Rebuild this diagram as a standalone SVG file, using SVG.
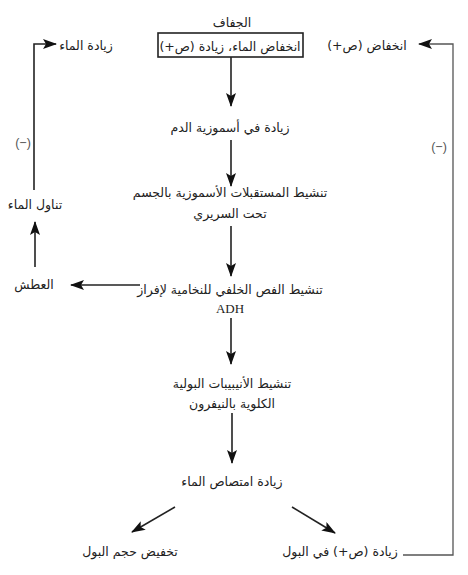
<svg xmlns="http://www.w3.org/2000/svg" width="468" height="575" viewBox="0 0 468 575">
<style>
text{font-family:"DejaVu Sans","Noto Sans",sans-serif;font-size:12.5px;fill:#222;text-anchor:middle}
.lat{font-family:"Liberation Serif",serif;font-size:13px}
.ln{stroke:#222;stroke-width:1.6;fill:none}
.fb{stroke:#555;stroke-width:1.3;fill:none}
.neg{font-weight:normal;fill:#555;font-family:"Liberation Sans",sans-serif}
</style>
<defs>
<marker id="ah" viewBox="0 0 14 10" refX="13" refY="5" markerWidth="14" markerHeight="10" markerUnits="userSpaceOnUse" orient="auto">
<path d="M0,0 L14,5 L0,10 L3,5 Z" fill="#111"/>
</marker>
</defs>
<rect width="468" height="575" fill="#fff"/>
<g id="n0"><text x="232" y="27">الجفاف</text></g>
<g id="n1"><rect x="158" y="33" width="145" height="24" fill="none" stroke="#222" stroke-width="1.6"/><text x="230" y="51">انخفاض الماء، زيادة (ص+)</text></g>
<g id="n2"><text x="230" y="132">زيادة في أسموزية الدم</text></g>
<g id="n3"><text x="230" y="197">تنشيط المستقبلات الأسموزية بالجسم</text><text x="230" y="218">تحت السريري</text></g>
<g id="n4"><text x="230" y="294">تنشيط الفص الخلفي للنخامية لإفراز</text><text class="lat" x="230" y="313">ADH</text></g>
<g id="n5"><text x="232" y="388">تنشيط الأنيبيبات البولية</text><text x="232" y="408">الكلوية بالنيفرون</text></g>
<g id="n6"><text x="232" y="486">زيادة امتصاص الماء</text></g>
<g id="n7"><text x="130" y="556">تخفيض حجم البول</text></g>
<g id="n8"><text x="340" y="556">زيادة (ص+) في البول</text></g>
<g id="n9"><text x="367" y="50">انخفاض (ص+)</text></g>
<g id="n10"><text x="34" y="289">العطش</text></g>
<g id="n11"><text x="35" y="209">تناول الماء</text></g>
<g id="n12"><text x="86" y="50">زيادة الماء</text></g>
<g id="n13"><text class="neg" x="23" y="147">(−)</text></g>
<g id="n14"><text class="neg" x="439" y="151">(−)</text></g>
<g id="connectors">
<line class="ln" x1="231" y1="57" x2="231" y2="106" marker-end="url(#ah)"/>
<line class="ln" x1="231" y1="140" x2="231" y2="186" marker-end="url(#ah)"/>
<line class="ln" x1="231" y1="226" x2="231" y2="276" marker-end="url(#ah)"/>
<line class="ln" x1="231" y1="318" x2="231" y2="364" marker-end="url(#ah)"/>
<line class="ln" x1="232" y1="413" x2="232" y2="463" marker-end="url(#ah)"/>
<line class="ln" x1="175" y1="507" x2="132" y2="532" marker-end="url(#ah)"/>
<line class="ln" x1="292" y1="507" x2="335" y2="533" marker-end="url(#ah)"/>
<line class="ln" x1="140" y1="285" x2="71" y2="285" marker-end="url(#ah)"/>
<line class="ln" x1="35" y1="267" x2="35" y2="222" marker-end="url(#ah)"/>
<polyline class="ln" points="34,190 34,44 56,44" marker-end="url(#ah)"/>
<polyline class="fb" points="403,555 453,555 453,44 419,44" marker-end="url(#ah)"/>
</g>
</svg>
